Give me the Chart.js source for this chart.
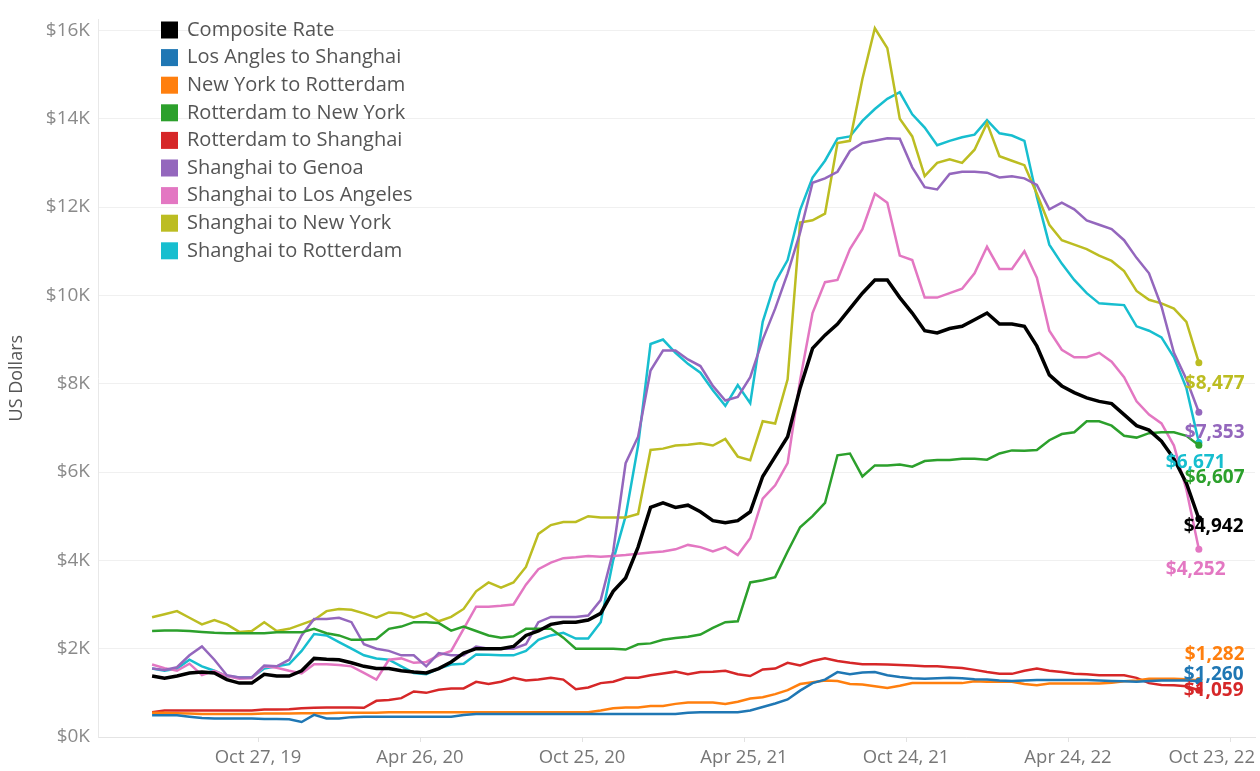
<!DOCTYPE html>
<html>
<head>
<meta charset="utf-8">
<script src="https://cdn.jsdelivr.net/npm/chart.js@4.4.1/dist/chart.umd.min.js"></script>
<style>
  html, body { margin: 0; padding: 0; background: #fff; }
  canvas { display: block; }
</style>
</head>
<body>
<canvas id="graficoFretes" width="1260" height="771"></canvas>
<script>
// semanas contadas a partir de 27 out 2019 (dados quinzenais)
const weeks = [-17,-15,-13,-11,-9,-7,-5,-3,-1,1,3,5,7,9,11,13,15,17,19,21,23,25,27,29,31,33,35,37,39,41,43,45,47,49,51,53,55,57,59,61,63,65,67,69,71,73,75,77,79,81,83,85,87,89,91,93,95,97,99,101,103,105,107,109,111,113,115,117,119,121,123,125,127,129,131,133,135,137,139,141,143,145,147,149,151];

const tickWeeks = [0, 26, 52, 78, 104, 130, 156];
const tickLabels = ["Oct 27, 19", "Apr 26, 20", "Oct 25, 20", "Apr 25, 21", "Oct 24, 21", "Apr 24, 22", "Oct 23, 22"];

// valores em milhares de US$
const composite = [1.38,1.33,1.38,1.45,1.47,1.45,1.30,1.22,1.22,
  1.42,1.38,1.38,1.50,1.78,1.76,1.75,1.68,
  1.60,1.55,1.55,1.50,1.47,1.45,1.55,1.70,
  1.90,2.00,2.00,2.00,2.05,2.30,2.40,2.55,
  2.60,2.60,2.65,2.80,3.30,3.60,4.30,5.20,
  5.30,5.20,5.25,5.10,4.90,4.85,4.90,5.10,
  5.90,6.35,6.80,7.90,8.80,9.10,9.35,9.70,
  10.05,10.35,10.35,9.95,9.60,9.20,9.15,9.25,
  9.30,9.45,9.60,9.35,9.35,9.30,8.85,8.20,
  7.95,7.80,7.68,7.60,7.55,7.30,7.05,6.95,
  6.70,6.30,5.75,4.942];

const laToShanghai = [0.49,0.49,0.49,0.46,0.43,0.42,0.42,0.42,0.42,
  0.41,0.41,0.40,0.34,0.50,0.42,0.42,0.45,
  0.46,0.46,0.46,0.46,0.46,0.46,0.46,0.46,
  0.50,0.52,0.52,0.52,0.52,0.52,0.52,0.52,
  0.52,0.52,0.52,0.52,0.52,0.52,0.52,0.52,
  0.52,0.52,0.55,0.56,0.56,0.56,0.56,0.60,
  0.68,0.76,0.85,1.05,1.22,1.30,1.47,1.42,
  1.46,1.47,1.40,1.36,1.33,1.32,1.33,1.34,
  1.33,1.31,1.30,1.28,1.27,1.28,1.29,1.29,
  1.29,1.29,1.29,1.28,1.27,1.26,1.25,1.27,
  1.28,1.28,1.28,1.26];

const nyToRotterdam = [0.55,0.55,0.54,0.53,0.52,0.52,0.52,0.52,0.52,
  0.53,0.53,0.53,0.54,0.54,0.54,0.55,0.55,
  0.55,0.55,0.56,0.56,0.56,0.56,0.56,0.56,
  0.56,0.56,0.56,0.56,0.56,0.56,0.56,0.56,
  0.56,0.56,0.56,0.60,0.65,0.67,0.67,0.70,
  0.70,0.75,0.78,0.78,0.78,0.75,0.80,0.87,
  0.90,0.97,1.06,1.20,1.24,1.28,1.27,1.20,
  1.19,1.15,1.11,1.16,1.22,1.22,1.22,1.22,
  1.22,1.26,1.25,1.25,1.25,1.20,1.17,1.21,
  1.21,1.21,1.21,1.21,1.23,1.26,1.28,1.32,
  1.32,1.32,1.31,1.282];

const rotterdamToNy = [2.40,2.41,2.41,2.40,2.38,2.36,2.35,2.35,2.35,
  2.35,2.37,2.37,2.37,2.45,2.35,2.30,2.20,
  2.20,2.22,2.45,2.50,2.60,2.60,2.58,2.41,
  2.50,2.40,2.30,2.25,2.28,2.45,2.45,2.45,
  2.25,2.00,2.00,2.00,2.00,1.98,2.10,2.12,
  2.20,2.24,2.27,2.32,2.47,2.60,2.62,3.50,
  3.55,3.62,4.20,4.75,5.00,5.30,6.38,6.42,
  5.90,6.15,6.15,6.17,6.12,6.25,6.27,6.27,
  6.30,6.30,6.28,6.42,6.49,6.48,6.50,6.72,
  6.86,6.90,7.15,7.15,7.05,6.82,6.78,6.88,
  6.90,6.90,6.82,6.607];

const rotterdamToShanghai = [0.56,0.60,0.60,0.60,0.60,0.60,0.60,0.60,0.60,
  0.62,0.62,0.63,0.65,0.66,0.67,0.67,0.67,
  0.66,0.82,0.84,0.88,1.03,1.00,1.07,1.10,
  1.10,1.25,1.20,1.25,1.34,1.28,1.30,1.34,
  1.30,1.08,1.12,1.22,1.25,1.34,1.34,1.40,
  1.44,1.48,1.42,1.47,1.48,1.50,1.42,1.38,
  1.53,1.55,1.68,1.62,1.72,1.78,1.72,1.68,
  1.65,1.65,1.64,1.63,1.62,1.60,1.60,1.58,
  1.56,1.52,1.47,1.43,1.43,1.50,1.55,1.50,
  1.47,1.43,1.42,1.40,1.40,1.40,1.34,1.22,
  1.18,1.17,1.15,1.059];

const shanghaiToGenoa = [1.55,1.52,1.58,1.85,2.05,1.75,1.40,1.35,1.35,
  1.62,1.60,1.75,2.30,2.67,2.67,2.70,2.60,
  2.10,2.00,1.95,1.85,1.85,1.60,1.90,1.85,
  1.85,2.05,2.00,2.00,2.00,2.10,2.60,2.72,
  2.72,2.72,2.75,3.10,4.20,6.20,6.80,8.30,
  8.75,8.75,8.55,8.40,7.95,7.62,7.70,8.15,
  9.00,9.70,10.50,11.42,12.55,12.65,12.80,13.27,
  13.45,13.50,13.56,13.55,12.90,12.45,12.40,12.75,
  12.80,12.80,12.78,12.67,12.70,12.65,12.50,11.95,
  12.10,11.95,11.70,11.60,11.50,11.25,10.85,10.50,
  9.75,8.70,8.10,7.353];

const shanghaiToLa = [1.64,1.56,1.50,1.66,1.40,1.50,1.38,1.32,1.33,
  1.60,1.57,1.50,1.44,1.65,1.65,1.63,1.60,
  1.45,1.30,1.75,1.78,1.68,1.70,1.85,1.95,
  2.45,2.95,2.95,2.97,3.00,3.45,3.80,3.95,
  4.05,4.07,4.10,4.08,4.10,4.12,4.15,4.18,
  4.20,4.25,4.35,4.30,4.20,4.30,4.12,4.50,
  5.40,5.70,6.20,8.08,9.60,10.30,10.35,11.05,
  11.50,12.30,12.10,10.90,10.80,9.95,9.95,10.05,
  10.15,10.50,11.10,10.60,10.60,11.00,10.40,9.20,
  8.77,8.60,8.60,8.70,8.50,8.15,7.60,7.30,
  7.10,6.60,5.60,4.252];

const shanghaiToNy = [2.71,2.78,2.85,2.70,2.55,2.65,2.55,2.38,2.40,
  2.60,2.40,2.45,2.55,2.65,2.85,2.90,2.88,
  2.80,2.70,2.82,2.80,2.70,2.80,2.62,2.72,
  2.90,3.30,3.50,3.38,3.50,3.85,4.60,4.80,
  4.87,4.87,5.00,4.97,4.97,4.97,5.05,6.50,
  6.53,6.60,6.62,6.65,6.60,6.75,6.35,6.27,
  7.15,7.10,8.10,11.65,11.70,11.85,13.45,13.50,
  14.90,16.05,15.60,14.00,13.60,12.70,13.00,13.08,
  13.00,13.30,13.90,13.15,13.05,12.95,12.30,11.60,
  11.25,11.15,11.05,10.90,10.78,10.55,10.10,9.90,
  9.82,9.70,9.40,8.477];

const shanghaiToRotterdam = [1.55,1.50,1.55,1.75,1.60,1.50,1.38,1.35,1.35,
  1.55,1.60,1.65,1.95,2.33,2.30,2.15,2.00,
  1.85,1.78,1.75,1.60,1.45,1.42,1.55,1.64,
  1.66,1.87,1.86,1.85,1.85,1.95,2.20,2.30,
  2.36,2.23,2.23,2.60,4.00,5.00,6.60,8.90,
  9.00,8.70,8.45,8.25,7.85,7.50,7.97,7.56,
  9.40,10.30,10.80,11.93,12.67,13.05,13.55,13.60,
  13.95,14.22,14.45,14.60,14.10,13.80,13.40,13.50,
  13.58,13.64,13.97,13.67,13.62,13.50,12.23,11.15,
  10.72,10.35,10.05,9.82,9.80,9.78,9.30,9.20,
  9.05,8.60,7.90,6.671];

const seriesNames = ["Composite Rate", "Los Angles to Shanghai", "New York to Rotterdam", "Rotterdam to New York",
  "Rotterdam to Shanghai", "Shanghai to Genoa", "Shanghai to Los Angeles", "Shanghai to New York", "Shanghai to Rotterdam"];
const seriesValues = [composite, laToShanghai, nyToRotterdam, rotterdamToNy, rotterdamToShanghai,
  shanghaiToGenoa, shanghaiToLa, shanghaiToNy, shanghaiToRotterdam];
const seriesColors = ["#000000", "#1f77b4", "#ff7f0e", "#2ca02c", "#d62728", "#9467bd", "#e377c2", "#bcbd22", "#17becf"];

// deslocamento do rótulo final em relação ao último ponto
const labelOffsets = [[-15, 8], [-15, -7], [-14, -26], [-14, 32], [-15, 0], [-14, 20], [-33, 20], [-14, 21], [-33, 20]];

const fonte = "'Open Sans', sans-serif";

const extras = {
  id: "extras",
  afterDatasetsDraw(chart) {
    const ctx = chart.ctx;
    const xs = chart.scales.x;
    const area = chart.chartArea;
    ctx.save();

    // eixo x
    ctx.font = "18.5px " + fonte;
    ctx.fillStyle = "#777";
    ctx.textAlign = "center";
    ctx.textBaseline = "middle";
    ctx.strokeStyle = "#e2e2e2";
    ctx.lineWidth = 1;
    tickWeeks.forEach((w, i) => {
      const px = xs.getPixelForValue(w);
      ctx.beginPath();
      ctx.moveTo(px + 0.5, area.bottom);
      ctx.lineTo(px + 0.5, area.bottom + 5);
      ctx.stroke();
      const tw = ctx.measureText(tickLabels[i]).width;
      const cx = Math.min(px, chart.width - 5 - tw / 2);
      ctx.fillText(tickLabels[i], cx, 758);
    });

    // legenda
    ctx.font = "20px " + fonte;
    ctx.textAlign = "left";
    seriesNames.forEach((name, i) => {
      const cy = 30 + i * 27.6;
      ctx.fillStyle = seriesColors[i];
      ctx.fillRect(161, cy - 8.5, 17, 17);
      ctx.fillStyle = "#555";
      ctx.fillText(name, 187, cy);
    });

    // rótulos finais
    ctx.font = "bold 19px " + fonte;
    chart.data.datasets.forEach((ds, i) => {
      const meta = chart.getDatasetMeta(i);
      const pt = meta.data[meta.data.length - 1];
      const v = seriesValues[i][seriesValues[i].length - 1];
      const txt = "$" + Math.round(v * 1000).toLocaleString("en-US");
      ctx.fillStyle = seriesColors[i];
      ctx.fillText(txt, pt.x + labelOffsets[i][0], pt.y + labelOffsets[i][1]);
    });
    ctx.restore();
  }
};

const ctx = document.querySelector("#graficoFretes");

new Chart(ctx, {
  type: "line",
  data: {
    datasets: seriesNames.map((name, i) => ({
      label: name,
      data: weeks.map((w, j) => ({ x: w, y: seriesValues[i][j] })),
      borderColor: seriesColors[i],
      backgroundColor: seriesColors[i],
      borderWidth: i === 0 ? 3.5 : 2.5,
      tension: 0,
      pointRadius: (c) => (c.dataIndex === weeks.length - 1 ? 3.5 : 0),
      pointBorderWidth: 0,
    })),
  },
  options: {
    responsive: false,
    animation: false,
    devicePixelRatio: 1,
    layout: { padding: { top: 6, right: 5, left: 0, bottom: 0 } },
    plugins: {
      legend: { display: false },
      tooltip: { enabled: false },
    },
    scales: {
      x: {
        type: "linear",
        min: -25.68,
        max: 160.01,
        grid: { display: false },
        border: { display: true, color: "#e4e4e4" },
        ticks: { display: false },
        afterFit: (s) => { s.height = 34; },
      },
      y: {
        min: 0,
        max: 16.25,
        grid: { color: "#f0f0f0", drawTicks: false },
        border: { display: true, color: "#e8e8e8" },
        ticks: {
          stepSize: 2,
          includeBounds: false,
          padding: 8,
          color: "#8a8a8a",
          font: { family: fonte, size: 19 },
          callback: (v) => "$" + v + "K",
        },
        title: {
          display: true,
          text: "US Dollars",
          color: "#555",
          font: { family: fonte, size: 18 },
          padding: { top: 6, bottom: 0 },
        },
        afterFit: (s) => { s.width = 98; },
      },
    },
  },
  plugins: [extras],
});
</script>
</body>
</html>
